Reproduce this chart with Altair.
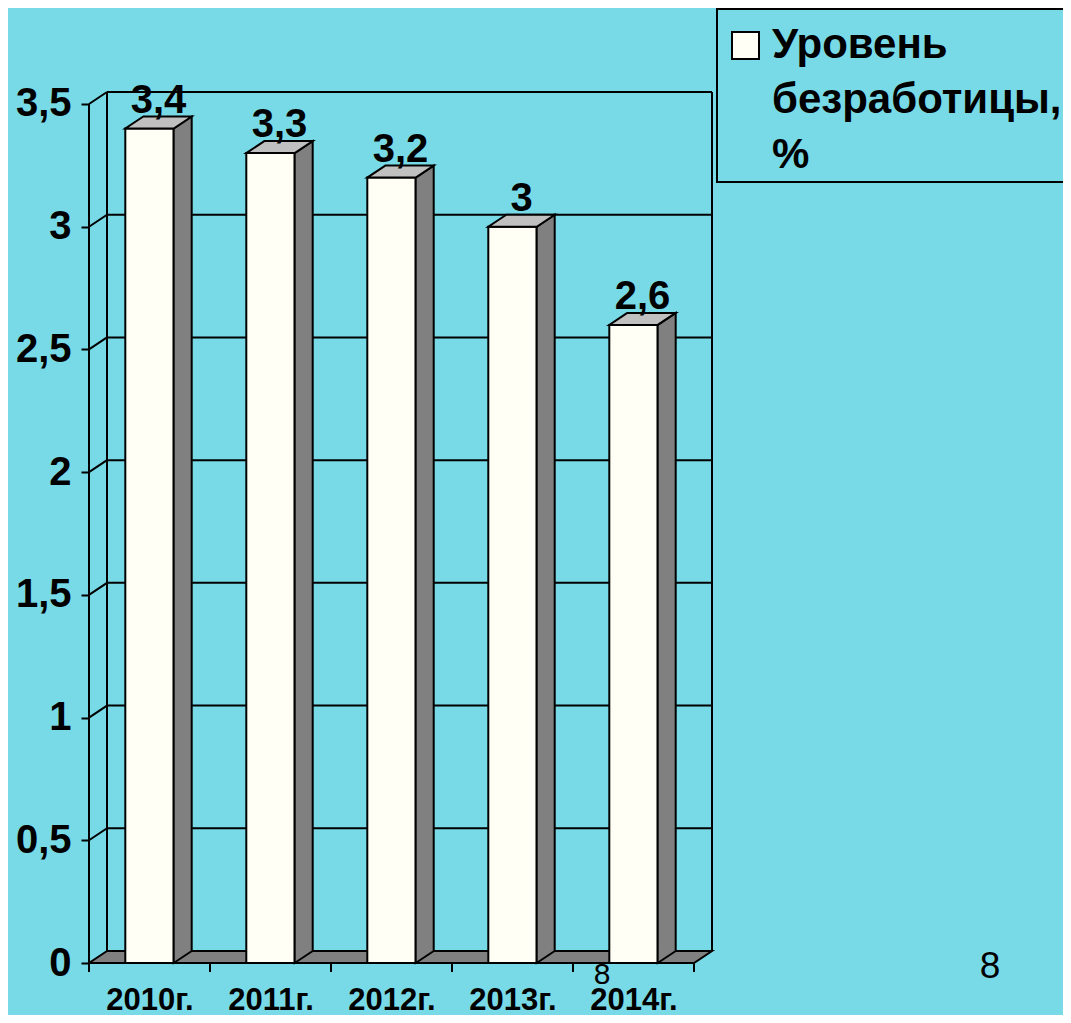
import json
import altair as alt
import pandas as pd

# ---- data ----
years = ["2010г.", "2011г.", "2012г.", "2013г.", "2014г."]
values = [3.4, 3.3, 3.2, 3.0, 2.6]
y_ticks = [0, 0.5, 1, 1.5, 2, 2.5, 3, 3.5]
legend_lines = ["Уровень", "безработицы,", "%"]
page_number = "8"

# ---- style ----
BG = "#78DAE7"
FRONT = "#FFFFF5"
SIDE = "#808080"
TOP = "#C0C0C0"
FONT = "Liberation Sans"

W, H = 623, 871
PX_X = 121.0          # pixels per category
PX_Y = 245.43         # pixels per value unit
DX = 18 / PX_X        # depth offset (x units)
DY = 12 / PX_Y        # depth offset (y units)
n = len(years)
XMAX = W / PX_X
YMAX = H / PX_Y
YTOP = max(y_ticks)
HALF = 0.2
LW = 2

xs = alt.Scale(domain=[0, XMAX], nice=False, zero=False)
ys = alt.Scale(domain=[0, YMAX], nice=False, zero=False)

label_expr = json.dumps(years, ensure_ascii=False) + "[floor(datum.value)]"
XAXIS = alt.Axis(values=[k + 0.5 for k in range(n)], labelExpr=label_expr,
                 ticks=False, domain=False, grid=False, title=None,
                 labelFont=FONT, labelFontWeight="bold", labelFontSize=31,
                 labelColor="black", labelBaseline="alphabetic",
                 labelPadding=46, labelFlush=False, labelOverlap=False)
YAXIS = alt.Axis(values=y_ticks,
                 labelExpr="replace(toString(datum.value), '.', ',')",
                 domain=False, grid=False, title=None, ticks=True,
                 tickSize=8, tickWidth=LW, tickColor="black",
                 labelFont=FONT, labelFontWeight="bold", labelFontSize=40,
                 labelColor="black", labelPadding=10, labelFlush=False,
                 labelOverlap=False)


def X(f):
    return alt.X(f, type="quantitative", scale=xs, stack=None, axis=XAXIS, title=None)


def Y(f):
    return alt.Y(f, type="quantitative", scale=ys, stack=None, axis=YAXIS, title=None)


# bars
bars = pd.DataFrame({
    "year": years,
    "v": values,
    "i": range(n),
})
bars["xl"] = bars["i"] + 0.5 - HALF
bars["xr"] = bars["i"] + 0.5 + HALF
bars["y0"] = 0.0
bars["lx"] = bars["i"] + 0.5 + DX / 2
bars["label"] = [f"{v:g}".replace(".", ",") for v in values]

side_rows, top_rows = [], []
for _, r in bars.iterrows():
    side_rows.append({"year": r.year, "x": r.xr, "yt": r.v, "yb": 0.0})
    side_rows.append({"year": r.year, "x": r.xr + DX, "yt": r.v + DY, "yb": DY})
    top_rows.append({"year": r.year, "y": r.v, "a": r.xl, "b": r.xr})
    top_rows.append({"year": r.year, "y": r.v + DY, "a": r.xl + DX, "b": r.xr + DX})
side = pd.DataFrame(side_rows)
topf = pd.DataFrame(top_rows)

grid = pd.DataFrame({"lvl": [t for t in y_ticks if t > 0]})
grid["lvl_b"] = grid["lvl"] + DY
grid["x0"] = 0.0
grid["xb"] = DX
grid["xe"] = n + DX

walls = pd.DataFrame({"x": [DX, n + DX], "y1": [DY, DY], "y2": [YTOP + DY, YTOP + DY]})
floor = pd.DataFrame({"y": [0.0, DY], "a": [0.0, DX], "b": [float(n), n + DX]})
bounds = pd.DataFrame({"b": [float(k) for k in range(n + 1)]})
front_axes = pd.DataFrame({"x1": [0.0, 0.0], "x2": [0.0, float(n)],
                           "y1": [0.0, 0.0], "y2": [YTOP, 0.0]})
one = pd.DataFrame({"k": [0]})

grid_back = alt.Chart(grid).mark_rule(color="black", strokeWidth=LW).encode(
    x=X("xb"), x2="xe", y=Y("lvl_b"))
grid_diag = alt.Chart(grid).mark_rule(color="black", strokeWidth=LW).encode(
    x=X("x0"), x2="xb", y=Y("lvl"), y2="lvl_b")
wall_lines = alt.Chart(walls).mark_rule(color="black", strokeWidth=LW).encode(
    x=X("x"), y=Y("y1"), y2="y2")
floor_l = alt.Chart(floor).mark_area(orient="horizontal", fill=SIDE, stroke="black",
                                     strokeWidth=LW).encode(
    y=Y("y"), x=X("a"), x2="b")

front = alt.Chart(bars).mark_rect(fill=FRONT, stroke="black", strokeWidth=LW).encode(
    x=X("xl"), x2="xr", y=Y("y0"), y2="v")
side_l = alt.Chart(side).mark_area(orient="vertical", fill=SIDE, stroke="black",
                                   strokeWidth=LW).encode(
    x=X("x"), y=Y("yt"), y2="yb", detail="year:N")
top_l = alt.Chart(topf).mark_area(orient="horizontal", fill=TOP, stroke="black",
                                  strokeWidth=LW).encode(
    y=Y("y"), x=X("a"), x2="b", detail="year:N")

axes_l = alt.Chart(front_axes).mark_rule(color="black", strokeWidth=LW).encode(
    x=X("x1"), x2="x2", y=Y("y1"), y2="y2")
xticks = alt.Chart(bounds).mark_rule(color="black", strokeWidth=LW).encode(
    x=X("b"), y=alt.value(H), y2=alt.value(H + 9))

labels = alt.Chart(bars).mark_text(font=FONT, fontWeight="bold", fontSize=40,
                                   color="black", align="center",
                                   baseline="alphabetic", dy=-16).encode(
    x=X("lx"), y=Y("v"), text="label:N")

legend_box = alt.Chart(one).mark_rect(fill=BG, stroke="black", strokeWidth=LW).encode(
    x=alt.value(628), x2=alt.value(1000), y=alt.value(-83), y2=alt.value(90))
legend_sym = alt.Chart(one).mark_rect(fill=FRONT, stroke="black", strokeWidth=LW).encode(
    x=alt.value(643), x2=alt.value(670), y=alt.value(-60), y2=alt.value(-33))
legend_txt = alt.Chart(one).mark_text(font=FONT, fontWeight="bold", fontSize=42,
                                      color="black", align="left",
                                      baseline="alphabetic", lineBreak="\n",
                                      lineHeight=55).encode(
    x=alt.value(683), y=alt.value(-34), text=alt.value("\n".join(legend_lines)))

pn1 = alt.Chart(one).mark_text(font=FONT, fontSize=37, color="black", align="center",
                               baseline="alphabetic").encode(
    x=alt.value(901), y=alt.value(886), text=alt.value(page_number))
pn2 = alt.Chart(one).mark_text(font=FONT, fontSize=30, color="black", align="center",
                               baseline="alphabetic").encode(
    x=alt.value(513), y=alt.value(892), text=alt.value(page_number))

chart = alt.layer(
    grid_back, grid_diag, wall_lines, floor_l,
    front, side_l, top_l,
    axes_l, xticks, labels,
    legend_box, legend_sym, legend_txt, pn1, pn2,
).properties(
    width=W, height=H,
    autosize=alt.AutoSizeParams(type="none"),
    padding={"left": 81, "top": 84, "right": 351, "bottom": 52},
    background=BG,
).configure_view(stroke=None)

chart.save("out.html", embed_options={"renderer": "svg", "actions": False})
